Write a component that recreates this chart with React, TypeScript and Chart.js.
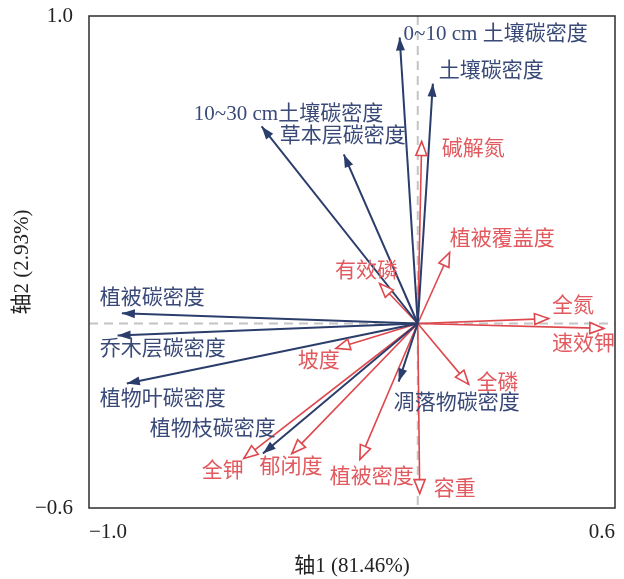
import React, { useEffect, useRef } from "react";
import { Chart, registerables } from "chart.js";

Chart.register(...registerables);

// ---- Data ----
const xTickValues = [-1.0, 0.6];
const xTickLabels = ["−1.0", "0.6"];
const yTickValues = [-0.6, 1.0];
const yTickLabels = ["−0.6", "1.0"];
const xTitle = "轴1 (81.46%)";
const yTitle = "轴2 (2.93%)";

const carbonNames = [
  "0~10 cm 土壤碳密度",
  "土壤碳密度",
  "10~30 cm土壤碳密度",
  "草本层碳密度",
  "植被碳密度",
  "乔木层碳密度",
  "植物叶碳密度",
  "植物枝碳密度",
  "凋落物碳密度",
];
const carbonAxis1 = [-0.055, 0.046, -0.475, -0.225, -0.9, -0.913, -0.885, -0.471, -0.058];
const carbonAxis2 = [0.93, 0.78, 0.641, 0.55, 0.033, -0.039, -0.195, -0.423, -0.189];

const envNames = ["碱解氮", "植被覆盖度", "有效磷", "全氮", "速效钾", "坡度", "全磷", "全钾", "郁闭度", "植被密度", "容重"];
const envAxis1 = [0.012, 0.097, -0.116, 0.398, 0.566, -0.249, 0.155, -0.529, -0.383, -0.176, 0.006];
const envAxis2 = [0.592, 0.231, 0.13, 0.016, -0.016, -0.081, -0.198, -0.439, -0.423, -0.442, -0.553];

// ---- Layout (label anchors in axis units, left-aligned, vertically centred) ----
const carbonLabelPos = [
  [-0.043, 0.94], [0.064, 0.82], [-0.681, 0.68], [-0.42, 0.608], [-0.967, 0.081],
  [-0.967, -0.085], [-0.967, -0.247], [-0.815, -0.345], [-0.073, -0.26],
];
const envLabelPos = [
  [0.073, 0.566], [0.097, 0.273], [-0.252, 0.169], [0.408, 0.055], [0.408, -0.068],
  [-0.365, -0.124], [0.179, -0.195], [-0.657, -0.481], [-0.481, -0.468], [-0.268, -0.501], [0.049, -0.54],
];

// ---- Styles ----
const FONT_FAMILY = "'Liberation Serif', 'Times New Roman', 'Noto Sans CJK SC', serif";
const FONT_SIZE = 21;
const BLUE = "#2B3D6B";
const BLUE_TEXT = "#3A4A78";
const RED = "#DE474C";
const RED_TEXT = "#E25A5F";

const overlayPlugin = {
  id: "overlay",
  beforeDatasetsDraw(chart: any) {
    const { ctx, chartArea, scales } = chart;
    const x0 = scales.x.getPixelForValue(0);
    const y0 = scales.y.getPixelForValue(0);
    ctx.save();
    ctx.strokeStyle = "#C4C4C4";
    ctx.lineWidth = 2;
    ctx.setLineDash([9, 6]);
    ctx.beginPath();
    ctx.moveTo(chartArea.left, y0);
    ctx.lineTo(chartArea.right, y0);
    ctx.moveTo(x0, chartArea.top);
    ctx.lineTo(x0, chartArea.bottom);
    ctx.stroke();
    ctx.restore();
  },
  afterDatasetsDraw(chart: any) {
    const { ctx, scales, chartArea } = chart;
    chart.data.datasets.forEach((ds: any, i: number) => {
      const meta = chart.getDatasetMeta(i);
      const p0 = meta.data[0];
      const p1 = meta.data[1];
      const ang = Math.atan2(p1.y - p0.y, p1.x - p0.x);
      const isBlue = ds.group === "carbon";
      const len = isBlue ? 13 : 14;
      const hw = isBlue ? 4.5 : 5.5;
      const bx = p1.x - len * Math.cos(ang);
      const by = p1.y - len * Math.sin(ang);
      const nx = -Math.sin(ang) * hw;
      const ny = Math.cos(ang) * hw;
      ctx.save();
      ctx.beginPath();
      ctx.moveTo(p1.x, p1.y);
      ctx.lineTo(bx + nx, by + ny);
      ctx.lineTo(bx - nx, by - ny);
      ctx.closePath();
      if (isBlue) {
        ctx.fillStyle = BLUE;
        ctx.fill();
      } else {
        ctx.fillStyle = "#ffffff";
        ctx.fill();
        ctx.strokeStyle = RED;
        ctx.lineWidth = 1.6;
        ctx.lineJoin = "miter";
        ctx.stroke();
      }
      ctx.restore();
    });

    ctx.save();
    ctx.font = `${FONT_SIZE}px ${FONT_FAMILY}`;
    ctx.textAlign = "left";
    ctx.textBaseline = "middle";
    carbonNames.forEach((name, i) => {
      ctx.fillStyle = BLUE_TEXT;
      ctx.fillText(name, scales.x.getPixelForValue(carbonLabelPos[i][0]), scales.y.getPixelForValue(carbonLabelPos[i][1]));
    });
    envNames.forEach((name, i) => {
      ctx.fillStyle = RED_TEXT;
      ctx.fillText(name, scales.x.getPixelForValue(envLabelPos[i][0]), scales.y.getPixelForValue(envLabelPos[i][1]));
    });
    ctx.restore();

    ctx.save();
    ctx.strokeStyle = "#3a3a3a";
    ctx.lineWidth = 1.6;
    ctx.strokeRect(chartArea.left, chartArea.top, chartArea.right - chartArea.left, chartArea.bottom - chartArea.top);
    ctx.restore();
  },
};

export default function App() {
  const canvasRef = useRef<HTMLCanvasElement | null>(null);

  useEffect(() => {
    if (!canvasRef.current) return;
    const datasets: any[] = [];
    carbonNames.forEach((name, i) => {
      datasets.push({
        label: name,
        group: "carbon",
        data: [{ x: 0, y: 0 }, { x: carbonAxis1[i], y: carbonAxis2[i] }],
        showLine: true,
        borderColor: BLUE,
        borderWidth: 2,
        pointRadius: 0,
        fill: false,
      });
    });
    envNames.forEach((name, i) => {
      datasets.push({
        label: name,
        group: "env",
        data: [{ x: 0, y: 0 }, { x: envAxis1[i], y: envAxis2[i] }],
        showLine: true,
        borderColor: RED,
        borderWidth: 1.6,
        pointRadius: 0,
        fill: false,
      });
    });

    const font = { family: FONT_FAMILY, size: FONT_SIZE };
    const chart = new Chart(canvasRef.current, {
      type: "scatter",
      data: { datasets },
      options: {
        animation: false,
        responsive: true,
        maintainAspectRatio: false,
        devicePixelRatio: 1,
        layout: { padding: { left: 0, right: 9, top: 16, bottom: 0 } },
        plugins: { legend: { display: false }, tooltip: { enabled: false } },
        scales: {
          x: {
            type: "linear",
            min: -1.0,
            max: 0.6,
            afterBuildTicks: (s: any) => {
              s.ticks = xTickValues.map((v) => ({ value: v }));
            },
            afterFit: (s: any) => {
              s.height = 71;
              s.paddingLeft = 0;
              s.paddingRight = 0;
            },
            ticks: {
              align: "inner",
              padding: 12,
              font,
              color: "#222222",
              callback: (_v: any, idx: number) => xTickLabels[idx],
            },
            grid: { display: false, drawTicks: false },
            border: { display: false },
            title: { display: true, text: xTitle, font, color: "#222222", padding: { top: 0, bottom: 0 } },
          },
          y: {
            type: "linear",
            min: -0.6,
            max: 1.0,
            afterBuildTicks: (s: any) => {
              s.ticks = yTickValues.map((v) => ({ value: v }));
            },
            afterFit: (s: any) => {
              s.width = 89;
              s.paddingTop = 0;
              s.paddingBottom = 0;
            },
            ticks: {
              padding: 16,
              font,
              color: "#222222",
              callback: (_v: any, idx: number) => yTickLabels[idx],
            },
            grid: { display: false, drawTicks: false },
            border: { display: false },
            title: { display: true, text: yTitle, font, color: "#222222", padding: { top: 10, bottom: 0 } },
          },
        },
      } as any,
      plugins: [overlayPlugin],
    });
    return () => chart.destroy();
  }, []);

  return (
    <div style={{ position: "fixed", left: 0, top: 0, width: 624, height: 579, background: "#ffffff" }}>
      <canvas ref={canvasRef} />
    </div>
  );
}
